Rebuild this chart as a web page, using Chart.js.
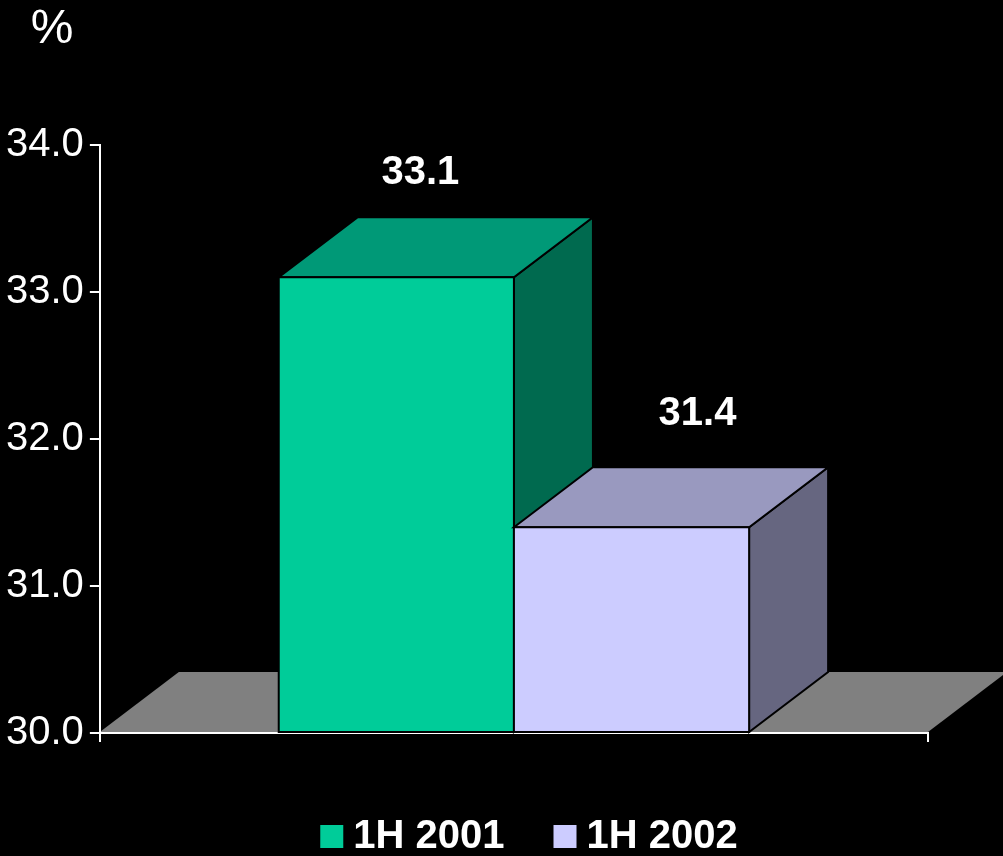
<!DOCTYPE html>
<html>
<head>
<meta charset="utf-8">
<script src="https://cdn.jsdelivr.net/npm/chart.js@4.4.1/dist/chart.umd.min.js"></script>
<style>
  html, body { margin: 0; padding: 0; background: #000; }
  #wrap { width: 1003px; height: 856px; position: relative; }
</style>
</head>
<body>
<div id="wrap"><canvas id="myChart"></canvas></div>
<script>
const categories = [''];
const seriesNames = ['1H 2001', '1H 2002'];
const series2001 = [33.1];
const series2002 = [31.4];
const yTicks = [30, 31, 32, 33, 34];

const FONT = '"Liberation Sans", Arial, Helvetica, sans-serif';

// front / top / side shades for each box
const shades = [
  { front: '#00CC99', top: '#009977', side: '#006A4F' },
  { front: '#CCCCFF', top: '#9999BF', side: '#666680' }
];

// extruded boxes, grey floor, value labels, legend and the "%" unit
const box3d = {
  id: 'box3d',
  beforeDraw(chart, args, opts) {
    const { ctx, chartArea: a } = chart;
    ctx.save();
    ctx.fillStyle = opts.floorColor;
    ctx.beginPath();
    ctx.moveTo(a.left, a.bottom - 1);
    ctx.lineTo(a.left + opts.dx, a.bottom - 1 + opts.dy);
    ctx.lineTo(a.right + opts.dx, a.bottom - 1 + opts.dy);
    ctx.lineTo(a.right, a.bottom - 1);
    ctx.closePath();
    ctx.fill();
    ctx.restore();
  },
  afterDatasetsDraw(chart, args, opts) {
    const ctx = chart.ctx;
    const { dx, dy } = opts;
    const face = (pts, color) => {
      ctx.beginPath();
      ctx.moveTo(pts[0][0], pts[0][1]);
      pts.slice(1).forEach(p => ctx.lineTo(p[0], p[1]));
      ctx.closePath();
      ctx.fillStyle = color;
      ctx.fill();
      ctx.stroke();
    };
    ctx.save();
    ctx.strokeStyle = '#000';
    ctx.lineWidth = 2;
    ctx.lineJoin = 'miter';
    chart.data.datasets.forEach((ds, i) => {
      const s = shades[i];
      chart.getDatasetMeta(i).data.forEach(bar => {
        const x0 = bar.x - bar.width / 2, x1 = bar.x + bar.width / 2;
        // the value axis starts at 30, so the box stands on the floor line
        const top = bar.y, base = Math.min(bar.base, chart.chartArea.bottom) - 1;
        face([[x1, top], [x1 + dx, top + dy], [x1 + dx, base + dy], [x1, base]], s.side);
        face([[x0, top], [x0 + dx, top + dy], [x1 + dx, top + dy], [x1, top]], s.top);
        face([[x0, top], [x1, top], [x1, base], [x0, base]], s.front);
      });
    });
    // value labels
    ctx.fillStyle = '#fff';
    ctx.font = 'bold 40px ' + FONT;
    ctx.textAlign = 'center';
    ctx.textBaseline = 'middle';
    chart.data.datasets.forEach((ds, i) => {
      const off = opts.labelOffsets[i];
      chart.getDatasetMeta(i).data.forEach((bar, j) => {
        ctx.fillText(ds.data[j].toFixed(1), bar.x + off[0], bar.y + off[1]);
      });
    });
    ctx.restore();
  },
  afterDraw(chart, args, opts) {
    const ctx = chart.ctx;
    ctx.save();
    // unit above the value axis
    ctx.fillStyle = '#fff';
    ctx.font = '48px ' + FONT;
    ctx.textAlign = 'center';
    ctx.textBaseline = 'alphabetic';
    ctx.fillText('%', 52, 43);

    // legend
    ctx.font = 'bold 40px ' + FONT;
    ctx.textAlign = 'left';
    const box = 23, gap = 10, itemGap = 49;
    const items = chart.data.datasets.map((ds, i) => ({
      text: ds.label, color: shades[i].front, w: ctx.measureText(ds.label).width
    }));
    const total = items.reduce((t, it) => t + box + gap + it.w, 0) + itemGap * (items.length - 1);
    let x = opts.legendCenter - total / 2;
    const y = opts.legendBaseline;
    items.forEach(it => {
      ctx.fillStyle = it.color;
      ctx.fillRect(x, y - box, box, box);
      ctx.fillStyle = '#fff';
      ctx.fillText(it.text, x + box + gap, y);
      x += box + gap + it.w + itemGap;
    });
    ctx.restore();
  }
};

const ctx = document.getElementById('myChart').getContext('2d');
const myChart = new Chart(ctx, {
  type: 'bar',
  data: {
    labels: categories,
    datasets: [
      { label: seriesNames[0], data: series2001, backgroundColor: shades[0].front, borderWidth: 0 },
      { label: seriesNames[1], data: series2002, backgroundColor: shades[1].front, borderWidth: 0 }
    ]
  },
  options: {
    responsive: true,
    maintainAspectRatio: false,
    animation: false,
    layout: { padding: { left: 0, top: 145, right: 75, bottom: 114 } },
    datasets: { bar: { barPercentage: 1, categoryPercentage: 0.568 } },
    plugins: {
      legend: { display: false },
      tooltip: { enabled: false },
      box3d: {
        dx: 79, dy: -60,
        floorColor: '#808080',
        labelOffsets: [[24, -104], [66, -113]],
        legendCenter: 529,
        legendBaseline: 848
      }
    },
    scales: {
      x: {
        z: 1,
        ticks: { display: false },
        grid: { drawOnChartArea: false, tickLength: 9, color: '#fff', lineWidth: 2 },
        border: { color: '#fff', width: 2 }
      },
      y: {
        min: yTicks[0],
        max: yTicks[yTicks.length - 1],
        afterBuildTicks: scale => { scale.ticks = yTicks.map(v => ({ value: v })); },
        ticks: {
          color: '#fff',
          padding: 6,
          font: { family: FONT, size: 40 },
          callback: v => Number(v).toFixed(1)
        },
        grid: { drawOnChartArea: false, tickLength: 10, color: '#fff', lineWidth: 2 },
        border: { color: '#fff', width: 2 }
      }
    }
  },
  plugins: [box3d]
});
</script>
</body>
</html>
